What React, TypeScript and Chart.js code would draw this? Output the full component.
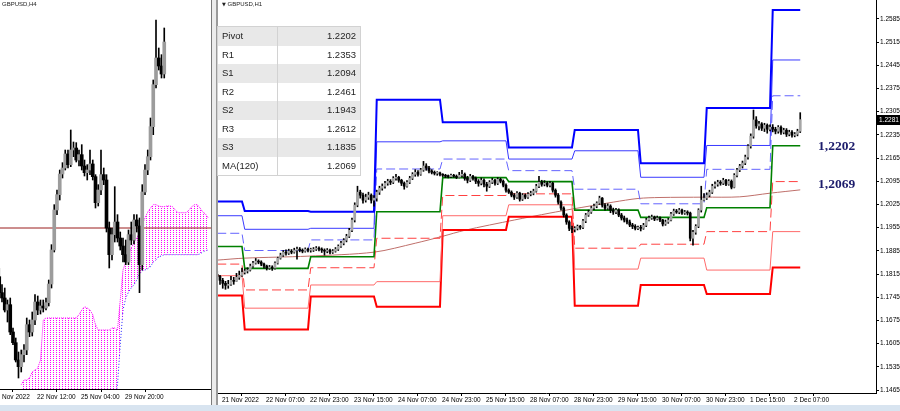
import React, { useEffect, useRef } from "react";
import { Chart, registerables } from "chart.js";
Chart.register(...registerables);

// ================= RIGHT PANEL : GBPUSD H1 =================
// bar 0 = 21 Nov 14:00, one bar per hour (weekend skipped), last bar = 2 Dec 10:00
const h1FirstOpen = 1.1814;
const h1Close = [
  1.1808, 1.1796, 1.1787, 1.1781, 1.1784, 1.1796, 1.1793, 1.1805, 1.1811, 1.1820,
  1.1824, 1.1827, 1.1839, 1.1848, 1.1854, 1.1851, 1.1845, 1.1839, 1.1833, 1.1836, 1.1833, 1.1848, 1.1863, 1.1872, 1.1881, 1.1878, 1.1884, 1.1881, 1.1887, 1.1890, 1.1887, 1.1884, 1.1890, 1.1887,
  1.1887, 1.1890, 1.1893, 1.1890, 1.1887, 1.1884, 1.1887, 1.1881, 1.1884, 1.1890, 1.1899, 1.1908, 1.1917, 1.1929, 1.1947, 1.1978, 1.2023, 1.2062, 1.2053, 1.2038, 1.2047, 1.2053, 1.2038, 1.2044,
  1.2062, 1.2074, 1.2080, 1.2089, 1.2095, 1.2092, 1.2104, 1.2107, 1.2098, 1.2089, 1.2080, 1.2092, 1.2104, 1.2116, 1.2122, 1.2116, 1.2129, 1.2141, 1.2135, 1.2126, 1.2122, 1.2119, 1.2120, 1.2116,
  1.2113, 1.2110, 1.2109, 1.2113, 1.2110, 1.2107, 1.2113, 1.2116, 1.2104, 1.2098, 1.2110, 1.2104, 1.2095, 1.2089, 1.2098, 1.2086, 1.2080, 1.2092, 1.2098, 1.2089, 1.2101, 1.2095, 1.2083, 1.2068,
  1.2062, 1.2053, 1.2047, 1.2059, 1.2041, 1.2053, 1.2047, 1.2056, 1.2059, 1.2065, 1.2080, 1.2092, 1.2086, 1.2089, 1.2083, 1.2089, 1.2068, 1.2053, 1.2032, 1.2014, 1.1993, 1.1972, 1.1953, 1.1950,
  1.1953, 1.1959, 1.1956, 1.1975, 1.1993, 1.2002, 1.2014, 1.2020, 1.2029, 1.2044, 1.2023, 1.2014, 1.2020, 1.2008, 1.2002, 1.2008, 1.1993, 1.1984, 1.1978, 1.1972, 1.1963, 1.1959, 1.1953, 1.1956,
  1.1953, 1.1962, 1.1978, 1.1984, 1.1987, 1.1981, 1.1984, 1.1978, 1.1966, 1.1972, 1.1978, 1.1996, 1.2005, 1.2002, 1.2008, 1.1999, 1.2002, 1.1999, 1.1923, 1.1941, 1.1959, 1.2008, 1.2038, 1.2044,
  1.2053, 1.2062, 1.2080, 1.2086, 1.2092, 1.2089, 1.2098, 1.2086, 1.2095, 1.2077, 1.2113, 1.2129, 1.2141, 1.2150, 1.2168, 1.2201, 1.2231, 1.2280, 1.2262, 1.2268, 1.2255, 1.2264, 1.2252, 1.2258,
  1.2252, 1.2246, 1.2258, 1.2243, 1.2249, 1.2237, 1.2243, 1.2234, 1.2237, 1.2246, 1.2281,
];
const h1High = [
  1.1824, 1.1811, 1.1802, 1.1793, 1.1796, 1.1808, 1.1805, 1.1817, 1.1824, 1.1833,
  1.1830, 1.1834, 1.1845, 1.1853, 1.1862, 1.1858, 1.1855, 1.1848, 1.1842, 1.1841, 1.1840, 1.1852, 1.1866, 1.1878, 1.1886, 1.1888, 1.1890, 1.1889, 1.1893, 1.1896, 1.1895, 1.1891, 1.1894, 1.1893,
  1.1893, 1.1895, 1.1898, 1.1897, 1.1894, 1.1891, 1.1892, 1.1890, 1.1889, 1.1895, 1.1903, 1.1914, 1.1922, 1.1935, 1.1953, 1.1984, 1.2030, 1.2080, 1.2068, 1.2059, 1.2056, 1.2062, 1.2057, 1.2052,
  1.2068, 1.2080, 1.2087, 1.2095, 1.2101, 1.2100, 1.2109, 1.2116, 1.2110, 1.2101, 1.2093, 1.2097, 1.2110, 1.2121, 1.2130, 1.2127, 1.2134, 1.2155, 1.2148, 1.2140, 1.2130, 1.2126, 1.2124, 1.2123,
  1.2118, 1.2116, 1.2114, 1.2117, 1.2116, 1.2114, 1.2122, 1.2128, 1.2120, 1.2110, 1.2116, 1.2113, 1.2108, 1.2100, 1.2105, 1.2102, 1.2092, 1.2097, 1.2104, 1.2101, 1.2106, 1.2104, 1.2099, 1.2087,
  1.2072, 1.2066, 1.2058, 1.2064, 1.2062, 1.2058, 1.2057, 1.2061, 1.2065, 1.2071, 1.2086, 1.2110, 1.2098, 1.2097, 1.2094, 1.2095, 1.2092, 1.2072, 1.2058, 1.2036, 1.2018, 1.1997, 1.1976, 1.1960,
  1.1958, 1.1963, 1.1962, 1.1980, 1.1998, 1.2008, 1.2019, 1.2026, 1.2033, 1.2050, 1.2046, 1.2028, 1.2027, 1.2024, 1.2014, 1.2013, 1.2012, 1.1998, 1.1990, 1.1984, 1.1978, 1.1968, 1.1964, 1.1960,
  1.1962, 1.1968, 1.1983, 1.1990, 1.1993, 1.1990, 1.1990, 1.1988, 1.1980, 1.1978, 1.1983, 1.2001, 1.2011, 1.2010, 1.2013, 1.2011, 1.2007, 1.2006, 1.2002, 1.1947, 1.1964, 1.2012, 1.2080, 1.2058,
  1.2060, 1.2068, 1.2086, 1.2093, 1.2098, 1.2097, 1.2104, 1.2101, 1.2100, 1.2099, 1.2118, 1.2134, 1.2146, 1.2156, 1.2174, 1.2206, 1.2238, 1.2310, 1.2290, 1.2276, 1.2272, 1.2270, 1.2268, 1.2265,
  1.2266, 1.2258, 1.2263, 1.2262, 1.2255, 1.2254, 1.2249, 1.2248, 1.2242, 1.2252, 1.2302,
];
const h1Low = [
  1.1799, 1.1784, 1.1772, 1.1769, 1.1772, 1.1781, 1.1784, 1.1793, 1.1799, 1.1808,
  1.1815, 1.1818, 1.1824, 1.1835, 1.1845, 1.1846, 1.1840, 1.1833, 1.1827, 1.1829, 1.1826, 1.1830, 1.1845, 1.1860, 1.1868, 1.1872, 1.1874, 1.1876, 1.1878, 1.1860, 1.1882, 1.1879, 1.1881, 1.1882,
  1.1881, 1.1883, 1.1886, 1.1885, 1.1880, 1.1872, 1.1879, 1.1876, 1.1877, 1.1881, 1.1886, 1.1895, 1.1903, 1.1912, 1.1925, 1.1943, 1.1972, 1.2018, 1.2044, 1.2029, 1.2032, 1.2040, 1.2029, 1.2020,
  1.2035, 1.2055, 1.2068, 1.2074, 1.2083, 1.2085, 1.2088, 1.2098, 1.2092, 1.2082, 1.2071, 1.2077, 1.2088, 1.2100, 1.2110, 1.2110, 1.2113, 1.2125, 1.2128, 1.2120, 1.2117, 1.2114, 1.2113, 1.2111,
  1.2109, 1.2106, 1.2105, 1.2106, 1.2107, 1.2103, 1.2105, 1.2108, 1.2098, 1.2090, 1.2094, 1.2098, 1.2088, 1.2080, 1.2084, 1.2078, 1.2065, 1.2076, 1.2088, 1.2083, 1.2085, 1.2090, 1.2078, 1.2062,
  1.2058, 1.2048, 1.2040, 1.2043, 1.2035, 1.2037, 1.2042, 1.2043, 1.2051, 1.2054, 1.2062, 1.2076, 1.2080, 1.2081, 1.2078, 1.2078, 1.2062, 1.2047, 1.2026, 1.2008, 1.1987, 1.1965, 1.1946, 1.1940,
  1.1942, 1.1948, 1.1950, 1.1952, 1.1970, 1.1989, 1.1998, 1.2009, 1.2015, 1.2025, 1.2017, 1.2008, 1.2010, 1.2000, 1.1995, 1.1997, 1.1988, 1.1978, 1.1972, 1.1966, 1.1958, 1.1952, 1.1948, 1.1949,
  1.1945, 1.1950, 1.1958, 1.1975, 1.1980, 1.1976, 1.1978, 1.1973, 1.1960, 1.1962, 1.1968, 1.1975, 1.1992, 1.1998, 1.1997, 1.1995, 1.1995, 1.1993, 1.1915, 1.1902, 1.1935, 1.1955, 1.2002, 1.2036,
  1.2040, 1.2048, 1.2058, 1.2074, 1.2080, 1.2083, 1.2085, 1.2082, 1.2083, 1.2072, 1.2075, 1.2108, 1.2124, 1.2135, 1.2145, 1.2162, 1.2195, 1.2225, 1.2255, 1.2250, 1.2248, 1.2245, 1.2240, 1.2247,
  1.2244, 1.2238, 1.2240, 1.2236, 1.2238, 1.2230, 1.2232, 1.2228, 1.2229, 1.2232, 1.2242,
];

// first bar of each trading day: 21 Nov, 22, 23, 24, 25, 28, 29, 30 Nov, 1 Dec, 2 Dec
const dayStart = [0, 10, 34, 58, 82, 106, 130, 154, 178, 202];
const lastH1Bar = 212;

const r3Levels = [1.2034, 1.2005, 1.2003, 1.2341, 1.2273, 1.2197, 1.2250, 1.2149, 1.2316, 1.2612];
const r2Levels = [1.1991, 1.1950, 1.1953, 1.2214, 1.2217, 1.2162, 1.2187, 1.2107, 1.2203, 1.2461];
const r1Levels = [1.1938, 1.1886, 1.1918, 1.2132, 1.2162, 1.2127, 1.2071, 1.2027, 1.2131, 1.2353];
const pivotLevels = [1.1898, 1.1832, 1.1867, 1.2003, 1.2106, 1.2094, 1.2008, 1.1986, 1.2015, 1.2202];
const s1Levels = [1.1845, 1.1767, 1.1834, 1.1923, 1.2052, 1.2057, 1.1893, 1.1905, 1.1943, 1.2094];
const s2Levels = [1.1810, 1.1712, 1.1782, 1.1792, 1.1991, 1.2024, 1.1830, 1.1863, 1.1827, 1.1943];
const s3Levels = [1.1750, 1.1648, 1.1747, 1.1716, 1.1948, 1.1988, 1.1719, 1.1782, 1.1755, 1.1835];

const maBarIdx = [0, 10, 33, 57, 72, 82, 90, 108, 121, 129, 144, 153, 161, 177, 190, 201, 212];
const maValues = [1.1857, 1.1863, 1.1869, 1.1881, 1.1908, 1.1929, 1.1947, 1.1978, 1.1999, 1.2011, 1.2032, 1.2043, 1.2046, 1.2047, 1.2048, 1.2059, 1.2069];

const h1TickIdx = [1, 17, 33, 49, 65, 81, 97, 113, 129, 145, 161, 177, 193, 209];
const h1TickLabels = [
  "21 Nov 2022", "22 Nov 07:00", "22 Nov 23:00", "23 Nov 15:00", "24 Nov 07:00", "24 Nov 23:00",
  "25 Nov 15:00", "28 Nov 07:00", "28 Nov 23:00", "29 Nov 15:00", "30 Nov 07:00", "30 Nov 23:00",
  "1 Dec 15:00", "2 Dec 07:00",
];
const h1PriceTicks = [
  1.1465, 1.1535, 1.1605, 1.1675, 1.1745, 1.1815, 1.1885, 1.1955, 1.2025,
  1.2095, 1.2165, 1.2235, 1.2305, 1.2375, 1.2445, 1.2515, 1.2585,
];

const tableLabels = ["Pivot", "R1", "S1", "R2", "S2", "R3", "S3", "MA(120)"];
const tableValues = ["1.2202", "1.2353", "1.2094", "1.2461", "1.1943", "1.2612", "1.1835", "1.2069"];

// ================= LEFT PANEL : GBPUSD H4 =================
// bar 13 = 22 Nov 12:00
const h4FirstOpen = 1.1925;
const h4Close = [
  1.1901, 1.1893, 1.1875, 1.1883, 1.1842, 1.1826, 1.1800, 1.1790, 1.1808, 1.1815,
  1.1853, 1.1842, 1.1860, 1.1887, 1.1875, 1.1881, 1.1878, 1.1886, 1.1914, 1.1965,
  1.2025, 1.2048, 1.2079, 1.2088, 1.2109, 1.2093, 1.2115, 1.2118, 1.2100, 1.2108,
  1.2091, 1.2081, 1.2085, 1.2094, 1.2075, 1.2036, 1.2055, 1.2078, 1.2070, 1.1998,
  1.1958, 1.1988, 1.2007, 1.1983, 1.1971, 1.1958, 1.1947, 1.1988, 1.1980, 1.2010,
  1.2001, 1.1943, 1.2052, 1.2085, 1.2105, 1.2150, 1.2213, 1.2253, 1.2241, 1.2229,
  1.2277,
];
const h4High = [
  1.1938, 1.1913, 1.1908, 1.1890, 1.1893, 1.1848, 1.1833, 1.1812, 1.1815, 1.1823,
  1.1863, 1.1860, 1.1872, 1.1898, 1.1896, 1.1890, 1.1890, 1.1893, 1.1920, 1.1973,
  1.2033, 1.2055, 1.2085, 1.2096, 1.2115, 1.2115, 1.2145, 1.2127, 1.2126, 1.2115,
  1.2123, 1.2100, 1.2093, 1.2115, 1.2100, 1.2078, 1.2063, 1.2115, 1.2088, 1.2078,
  1.2007, 1.1998, 1.2060, 1.2018, 1.1992, 1.1983, 1.1980, 1.1995, 1.2007, 1.2018,
  1.2018, 1.2013, 1.2063, 1.2093, 1.2115, 1.2163, 1.2220, 1.2310, 1.2268, 1.2258,
  1.2298,
];
const h4Low = [
  1.1898, 1.1887, 1.1872, 1.1857, 1.1838, 1.1823, 1.1797, 1.1773, 1.1782, 1.1797,
  1.1808, 1.1835, 1.1836, 1.1853, 1.1868, 1.1869, 1.1872, 1.1875, 1.1881, 1.1908,
  1.1962, 1.2018, 1.2040, 1.2073, 1.2085, 1.2088, 1.2090, 1.2105, 1.2097, 1.2091,
  1.2085, 1.2076, 1.2070, 1.2078, 1.2070, 1.2028, 1.2031, 1.2048, 1.2063, 1.1992,
  1.1938, 1.1950, 1.1977, 1.1977, 1.1965, 1.1947, 1.1943, 1.1943, 1.1973, 1.1974,
  1.1992, 1.1901, 1.1935, 1.2048, 1.2078, 1.2100, 1.2138, 1.2208, 1.2235, 1.2223,
  1.2223,
];

// Ichimoku cloud spans, starting at H4 bar 8
const cloudStartIdx = 8;
const cloudUpper = [
  1.1763, 1.1770, 1.1770, 1.1773, 1.1782, 1.1785, 1.1788, 1.1800, 1.1860,
  1.1863, 1.1863, 1.1863, 1.1863, 1.1863, 1.1863, 1.1863, 1.1863, 1.1863, 1.1863, 1.1863, 1.1863,
  1.1868, 1.1875, 1.1880, 1.1878, 1.1875, 1.1868, 1.1853,
  1.1845, 1.1845, 1.1845, 1.1845, 1.1845, 1.1848, 1.1848, 1.1845,
  1.1890, 1.1935, 1.1947, 1.1958, 1.1968, 1.1976, 1.1983, 1.1991, 1.2003, 1.2013, 1.2022,
  1.2028, 1.2033, 1.2033, 1.2031, 1.2030, 1.2030, 1.2031, 1.2031, 1.2030, 1.2025, 1.2021,
  1.2021, 1.2021, 1.2021, 1.2025, 1.2030, 1.2033, 1.2033, 1.2028, 1.2022, 1.2019, 1.2013,
];
const cloudLower = [
  1.1740, 1.1740, 1.1740, 1.1740, 1.1740, 1.1740, 1.1740, 1.1740, 1.1740, 1.1740,
  1.1740, 1.1740, 1.1740, 1.1740, 1.1740, 1.1740, 1.1740, 1.1740, 1.1740, 1.1740,
  1.1740, 1.1740, 1.1740, 1.1740, 1.1740, 1.1740, 1.1740, 1.1740, 1.1740, 1.1740,
  1.1740, 1.1740, 1.1740, 1.1740, 1.1740,
  1.1763, 1.1823, 1.1875, 1.1893, 1.1902, 1.1908, 1.1913, 1.1920, 1.1929, 1.1934,
  1.1935, 1.1937, 1.1940, 1.1947, 1.1950, 1.1955, 1.1956,
  1.1958, 1.1958, 1.1958, 1.1958, 1.1958, 1.1958, 1.1958, 1.1958, 1.1958, 1.1958, 1.1958, 1.1958, 1.1958,
  1.1959, 1.1962, 1.1964, 1.1965,
];
const h4LevelLine = 1.1998;

const h4TickIdx = [-3, 13, 29, 45];
const h4TickLabels = ["17 Nov 2022", "22 Nov 12:00", "25 Nov 04:00", "29 Nov 20:00"];

// ================= helpers =================
const AXIS_FONT = { family: "'Liberation Sans', Arial, sans-serif", size: 6.5 };

function levelSeries(levels: number[]) {
  const pts: { x: number; y: number }[] = [];
  for (let d = 0; d < dayStart.length; d++) {
    const s = dayStart[d];
    const e = d + 1 < dayStart.length ? dayStart[d + 1] - 1 : lastH1Bar;
    pts.push({ x: s, y: levels[d] }, { x: e, y: levels[d] });
  }
  return pts;
}

function candleSets(open: number[], high: number[], low: number[], close: number[], bodyW: number, bull: string) {
  const wicks = close.map((c, i) => ({
    x: i,
    y: [Math.min(low[i], open[i], c), Math.max(high[i], open[i], c)],
  }));
  const bodies = close.map((c, i) => ({ x: i, y: [open[i], c] }));
  const colors = close.map((c, i) => (c >= open[i] ? bull : "#000000"));
  return [
    {
      type: "bar",
      label: "wick",
      data: wicks,
      backgroundColor: "#000000",
      barThickness: 1,
      grouped: false,
      borderWidth: 0,
      order: 1,
    },
    {
      type: "bar",
      label: "body",
      data: bodies,
      backgroundColor: colors,
      barThickness: bodyW,
      minBarLength: 1,
      grouped: false,
      borderWidth: 0,
      order: 0,
    },
  ];
}

function levelDataset(label: string, levels: number[], color: string, width: number, dash: number[]) {
  return {
    type: "line",
    label,
    data: levelSeries(levels),
    borderColor: color,
    borderWidth: width,
    borderDash: dash,
    pointRadius: 0,
    tension: 0,
    fill: false,
    order: 5,
  };
}

export default function App() {
  const leftRef = useRef<HTMLCanvasElement>(null);
  const rightRef = useRef<HTMLCanvasElement>(null);

  useEffect(() => {
    const charts: Chart[] = [];

    // ---------- right chart ----------
    if (rightRef.current) {
      const h1Open = h1Close.map((c, i) => (i === 0 ? h1FirstOpen : h1Close[i - 1]));
      const lastClose = h1Close[h1Close.length - 1];
      const overlay = {
        id: "overlayText",
        afterDraw(chart: any) {
          const { ctx, chartArea, scales } = chart;
          const y = Math.round(scales.y.getPixelForValue(lastClose));
          ctx.save();
          ctx.fillStyle = "#000";
          ctx.fillRect(chartArea.right, y - 5, 24, 10);
          ctx.fillStyle = "#fff";
          ctx.font = "6.5px 'Liberation Sans', Arial, sans-serif";
          ctx.textBaseline = "middle";
          ctx.textAlign = "left";
          ctx.fillText(lastClose.toFixed(4), chartArea.right + 3, y);
          ctx.font = "bold 13.5px 'Liberation Serif', 'Times New Roman', serif";
          ctx.fillStyle = "#1c1c6c";
          const pv = pivotLevels[pivotLevels.length - 1];
          const ma = maValues[maValues.length - 1];
          ctx.fillText(pv.toFixed(4).replace(".", ","), 602, scales.y.getPixelForValue(pv) + 1);
          ctx.fillText(ma.toFixed(4).replace(".", ","), 602, scales.y.getPixelForValue(ma) - 5);
          ctx.restore();
        },
      };
      charts.push(
        new Chart(rightRef.current, {
          type: "line",
          data: {
            datasets: [
              ...candleSets(h1Open, h1High, h1Low, h1Close, 2, "#a6a6a6"),
              {
                type: "line",
                label: "MA(120)",
                data: maBarIdx.map((x, i) => ({ x, y: maValues[i] })),
                borderColor: "#bf6f6a",
                borderWidth: 1,
                pointRadius: 0,
                tension: 0.3,
                fill: false,
                order: 6,
              },
              levelDataset("R3", r3Levels, "#0000ff", 2, []),
              levelDataset("R2", r2Levels, "#3a3aff", 1, []),
              levelDataset("R1", r1Levels, "#6464ff", 1, [9, 4]),
              levelDataset("Pivot", pivotLevels, "#008000", 1.6, []),
              levelDataset("S1", s1Levels, "#ff4040", 1, [9, 4]),
              levelDataset("S2", s2Levels, "#ff6a6a", 1, []),
              levelDataset("S3", s3Levels, "#ff0000", 2, []),
            ] as any,
          },
          options: {
            animation: false,
            responsive: false,
            devicePixelRatio: 1,
            events: [],
            layout: { padding: 0 },
            plugins: { legend: { display: false }, tooltip: { enabled: false } },
            scales: {
              x: {
                type: "linear",
                position: "bottom",
                min: -0.45,
                max: 239.55,
                offset: false,
                afterBuildTicks: (s: any) => {
                  s.ticks = h1TickIdx.map((v) => ({ value: v }));
                },
                afterFit: (s: any) => {
                  s.height = 18;
                  s.paddingLeft = 0;
                  s.paddingRight = 0;
                },
                ticks: {
                  autoSkip: false,
                  maxRotation: 0,
                  minRotation: 0,
                  align: "start",
                  labelOffset: 2,
                  padding: 0,
                  color: "#000",
                  font: AXIS_FONT,
                  callback: (v: any) => {
                    const k = h1TickIdx.indexOf(Number(v));
                    return k >= 0 ? h1TickLabels[k] : "";
                  },
                },
                grid: { drawOnChartArea: false, drawTicks: true, tickLength: 3, color: "#000" },
                border: { display: true, color: "#000", width: 1 },
              },
              y: {
                type: "linear",
                position: "right",
                min: 1.1456,
                max: 1.2642,
                afterBuildTicks: (s: any) => {
                  s.ticks = h1PriceTicks.map((v) => ({ value: v }));
                },
                afterFit: (s: any) => {
                  s.width = 24;
                  s.paddingTop = 0;
                  s.paddingBottom = 0;
                },
                ticks: {
                  padding: 1,
                  color: "#000",
                  font: AXIS_FONT,
                  callback: (v: any) => Number(v).toFixed(4),
                },
                grid: { drawOnChartArea: false, drawTicks: true, tickLength: 3, color: "#000" },
                border: { display: true, color: "#000", width: 1 },
              },
            },
          } as any,
          plugins: [overlay],
        })
      );
    }

    // ---------- left chart ----------
    if (leftRef.current) {
      const h4Open = h4Close.map((c, i) => (i === 0 ? h4FirstOpen : h4Close[i - 1]));
      const pc = document.createElement("canvas");
      pc.width = 3;
      pc.height = 2;
      const pg = pc.getContext("2d")!;
      pg.fillStyle = "#ff00ff";
      pg.fillRect(0, 0, 1, 1);
      const ctx = leftRef.current.getContext("2d")!;
      const pattern = ctx.createPattern(pc, "repeat");
      charts.push(
        new Chart(leftRef.current, {
          type: "line",
          data: {
            datasets: [
              ...candleSets(h4Open, h4High, h4Low, h4Close, 3, "#9c9c9c"),
              {
                type: "line",
                label: "level",
                data: [
                  { x: -4, y: h4LevelLine },
                  { x: 80, y: h4LevelLine },
                ],
                borderColor: "#9a1c1c",
                borderWidth: 1,
                pointRadius: 0,
                fill: false,
                order: 4,
              },
              {
                type: "line",
                label: "spanA",
                data: cloudUpper.map((v, i) => ({ x: cloudStartIdx + i, y: v })),
                borderColor: "#ff00ff",
                borderWidth: 1,
                borderDash: [1, 1],
                pointRadius: 0,
                tension: 0,
                fill: "+1",
                backgroundColor: pattern,
                order: 6,
              },
              {
                type: "line",
                label: "spanB",
                data: cloudLower.map((v, i) => ({ x: cloudStartIdx + i, y: v })),
                borderColor: "#2020ff",
                borderWidth: 1,
                borderDash: [1, 2],
                pointRadius: 0,
                tension: 0,
                fill: false,
                order: 7,
              },
            ] as any,
          },
          options: {
            animation: false,
            responsive: false,
            devicePixelRatio: 1,
            events: [],
            layout: { padding: 0 },
            plugins: { legend: { display: false }, tooltip: { enabled: false } },
            scales: {
              x: {
                type: "linear",
                position: "bottom",
                min: -3.36,
                max: 77.36,
                offset: false,
                afterBuildTicks: (s: any) => {
                  s.ticks = h4TickIdx.map((v) => ({ value: v }));
                },
                afterFit: (s: any) => {
                  s.height = 22;
                  s.paddingLeft = 0;
                  s.paddingRight = 0;
                },
                ticks: {
                  autoSkip: false,
                  maxRotation: 0,
                  minRotation: 0,
                  align: "start",
                  labelOffset: 2,
                  padding: 1,
                  color: "#000",
                  font: AXIS_FONT,
                  callback: (v: any) => {
                    const k = h4TickIdx.indexOf(Number(v));
                    return k >= 0 ? h4TickLabels[k] : "";
                  },
                },
                grid: { drawOnChartArea: false, drawTicks: true, tickLength: 3, color: "#000" },
                border: { display: true, color: "#000", width: 1 },
              },
              y: { type: "linear", display: false, min: 1.17565, max: 1.234 },
            },
          } as any,
        })
      );
    }

    return () => charts.forEach((c) => c.destroy());
  }, []);

  const rowH = 18.5;
  return (
    <div
      style={{
        position: "fixed",
        left: 0,
        top: 0,
        width: 900,
        height: 411,
        overflow: "hidden",
        background: "#ffffff",
        fontFamily: "'Liberation Sans', Arial, sans-serif",
      }}
    >
      <canvas
        ref={leftRef}
        width={222}
        height={411}
        style={{ position: "absolute", left: -10, top: 0, width: 222, height: 411 }}
      />
      <canvas
        ref={rightRef}
        width={684}
        height={411}
        style={{ position: "absolute", left: 216, top: 0, width: 684, height: 411 }}
      />
      {/* window frames */}
      <div style={{ position: "absolute", left: 211, top: 0, width: 1, height: 405, background: "#7a7a7a" }} />
      <div style={{ position: "absolute", left: 212, top: 0, width: 4, height: 405, background: "#ececec" }} />
      <div style={{ position: "absolute", left: 216, top: 0, width: 2, height: 405, background: "#9a9a9a" }} />
      <div style={{ position: "absolute", left: 0, top: 405, width: 900, height: 6, background: "#d8e4f0" }} />

      {/* titles */}
      <div style={{ position: "absolute", left: 2, top: 1, fontSize: 6, color: "#222", whiteSpace: "nowrap" }}>
        GBPUSD,H4
      </div>
      <div style={{ position: "absolute", left: 222, top: 1, fontSize: 6, color: "#222", whiteSpace: "nowrap" }}>
        <span style={{ fontFamily: "'DejaVu Sans', sans-serif", fontSize: 5 }}>▼</span> GBPUSD,H1
      </div>

      {/* pivot table */}
      <div
        style={{
          position: "absolute",
          left: 217,
          top: 26,
          width: 142,
          border: "1px solid #d2d2d2",
          background: "#fff",
        }}
      >
        {tableLabels.map((lab, i) => (
          <div
            key={lab}
            style={{
              display: "flex",
              height: rowH,
              background: i % 2 === 0 ? "#e8e8e8" : "#ffffff",
              fontSize: 9.5,
              color: "#1e1e1e",
              lineHeight: `${rowH}px`,
            }}
          >
            <div style={{ width: 60, paddingLeft: 4, borderRight: "1px solid #d2d2d2", boxSizing: "border-box" }}>
              {lab}
            </div>
            <div style={{ flex: 1, textAlign: "right", paddingRight: 4 }}>{tableValues[i]}</div>
          </div>
        ))}
      </div>
    </div>
  );
}
